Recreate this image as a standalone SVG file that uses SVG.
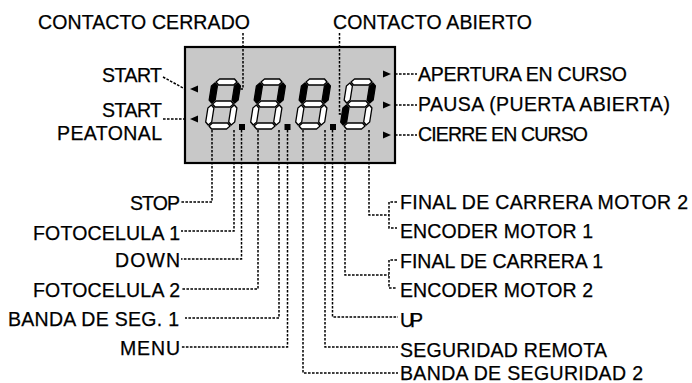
<svg xmlns="http://www.w3.org/2000/svg" xmlns:xlink="http://www.w3.org/1999/xlink" width="692" height="383" viewBox="0 0 692 383">
<style>
text{font-family:"Liberation Sans",Arial,sans-serif;font-size:19.5px;fill:#000;stroke:#000;stroke-width:0.25}
.ld{fill:none;stroke:#000;stroke-width:1.5;stroke-dasharray:2.6 1.4}
.seg{stroke:#000;stroke-width:1.3;stroke-linejoin:round}
.off{fill:#fff}
.on{fill:#000}
.tri{fill:#000}
</style>
<defs>
<polygon id="sa" points="4,3 7,0 22,0 25,3 22,6 7,6"/>
<polygon id="sg" points="4,25 7,22 22,22 25,25 22,28 7,28"/>
<polygon id="sd" points="4,47 7,44 22,44 25,47 22,50 7,50"/>
<polygon id="sf" points="3,4 6,7 6,21 3,24 0,21 0,7"/>
<polygon id="sb" points="26,4 29,7 29,21 26,24 23,21 23,7"/>
<polygon id="se" points="3,26 6,29 6,43 3,46 0,43 0,29"/>
<polygon id="sc" points="26,26 29,29 29,43 26,46 23,43 23,29"/>
</defs>
<g id="display">
<rect x="185" y="47" width="210" height="116" fill="#c8c8c8" stroke="#000" stroke-width="2.2"/>
</g>
<g id="digit1" transform="translate(212.5,79) skewX(-9)">
<use href="#sa" class="seg off"/><use href="#sg" class="seg off"/><use href="#sd" class="seg off"/>
<use href="#sf" class="seg on"/><use href="#sb" class="seg on"/><use href="#se" class="seg off"/><use href="#sc" class="seg off"/>
</g>
<g id="digit2" transform="translate(257.5,79) skewX(-9)">
<use href="#sa" class="seg off"/><use href="#sg" class="seg off"/><use href="#sd" class="seg off"/>
<use href="#sf" class="seg on"/><use href="#sb" class="seg on"/><use href="#se" class="seg off"/><use href="#sc" class="seg off"/>
</g>
<g id="digit3" transform="translate(302.5,79) skewX(-9)">
<use href="#sa" class="seg off"/><use href="#sg" class="seg off"/><use href="#sd" class="seg off"/>
<use href="#sf" class="seg on"/><use href="#sb" class="seg on"/><use href="#se" class="seg off"/><use href="#sc" class="seg off"/>
</g>
<g id="digit4" transform="translate(347.5,79) skewX(-9)">
<use href="#sa" class="seg off"/><use href="#sg" class="seg off"/><use href="#sd" class="seg off"/>
<use href="#sf" class="seg off"/><use href="#sb" class="seg on"/><use href="#se" class="seg on"/><use href="#sc" class="seg off"/>
</g>
<g id="dots">
<rect x="239" y="124" width="6" height="6" class="tri"/>
<rect x="284.5" y="124" width="6" height="6" class="tri"/>
<rect x="330" y="124" width="6" height="6" class="tri"/>
</g>
<g id="indicators">
<polygon class="tri" points="190,89 198,85.5 198,92.5"/>
<polygon class="tri" points="190,119 198,115.5 198,122.5"/>
<polygon class="tri" points="391,74 383,70.5 383,77.5"/>
<polygon class="tri" points="391,105 383,101.5 383,108.5"/>
<polygon class="tri" points="391,135 383,131.5 383,138.5"/>
</g>
<g id="connectors">
<path class="ld" d="M243,33 V89 H240"/>
<path class="ld" d="M339.5,33 V114 H342"/>
<path class="ld" d="M163,77 L185,89"/>
<path class="ld" d="M163,119 H185"/>
<path class="ld" d="M395,74 H417"/>
<path class="ld" d="M395,105 H417"/>
<path class="ld" d="M395,135 H417"/>
<path class="ld" d="M212,130 V202 H181"/>
<path class="ld" d="M234,130 V231 H181"/>
<path class="ld" d="M241.5,130 V259 H181"/>
<path class="ld" d="M258,130 V289 H181"/>
<path class="ld" d="M279,130 V318 H185"/>
<path class="ld" d="M287.5,130 V347 H181"/>
<path class="ld" d="M303,130 V373 H398"/>
<path class="ld" d="M325,130 V347 H398"/>
<path class="ld" d="M332.5,130 V317 H398"/>
<path class="ld" d="M345,130 V275 H389"/>
<path class="ld" d="M397,260 H389 V288 H397"/>
<path class="ld" d="M369,130 V215 H389"/>
<path class="ld" d="M397,202 H389 V228 H397"/>
</g>
<g id="labels">
<text x="38" y="29" textLength="212">CONTACTO CERRADO</text>
<text x="333" y="29" textLength="199">CONTACTO ABIERTO</text>
<text x="102" y="82" textLength="60">START</text>
<text x="102" y="117" textLength="60">START</text>
<text x="57" y="139.5" textLength="105">PEATONAL</text>
<text x="418" y="81" textLength="209">APERTURA EN CURSO</text>
<text x="418" y="111" textLength="252">PAUSA (PUERTA ABIERTA)</text>
<text x="418" y="141" textLength="170">CIERRE EN CURSO</text>
<text x="130" y="210" textLength="50">STOP</text>
<text x="33" y="240" textLength="147">FOTOCELULA 1</text>
<text x="115" y="267" textLength="65">DOWN</text>
<text x="33" y="297" textLength="147">FOTOCELULA 2</text>
<text x="8" y="326" textLength="171">BANDA DE SEG. 1</text>
<text x="120" y="355" textLength="60">MENU</text>
<text x="400" y="208.5" textLength="288">FINAL DE CARRERA MOTOR 2</text>
<text x="400" y="238" textLength="193">ENCODER MOTOR 1</text>
<text x="400" y="268" textLength="203">FINAL DE CARRERA 1</text>
<text x="400" y="297" textLength="193">ENCODER MOTOR 2</text>
<text x="400" y="327" textLength="23">UP</text>
<text x="400" y="356.5" textLength="207">SEGURIDAD REMOTA</text>
<text x="400" y="379.5" textLength="243">BANDA DE SEGURIDAD 2</text>
</g>
</svg>
